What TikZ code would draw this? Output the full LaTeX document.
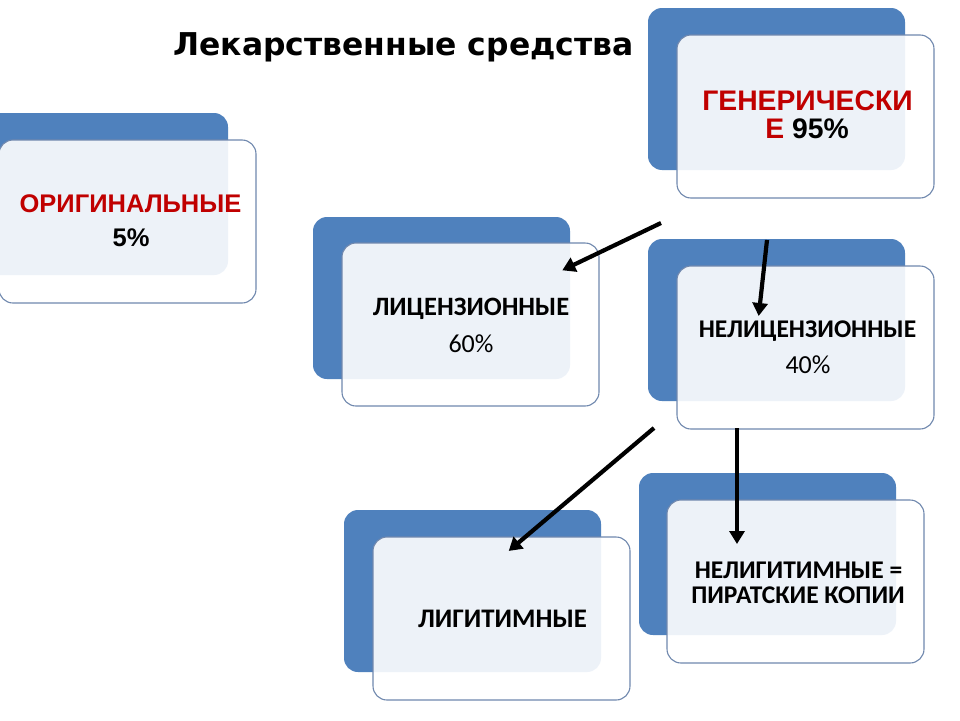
\documentclass[tikz,border=0pt]{standalone}
\usepackage{fontspec}
\setmainfont{Liberation Sans}
\newfontfamily\calibri{Carlito}
\newfontfamily\heavy{DejaVu Sans}
\usetikzlibrary{arrows.meta}
\definecolor{boxblue}{RGB}{79,129,189}
\definecolor{boxedge}{RGB}{112,136,174}
\definecolor{darkred}{RGB}{192,0,0}
\begin{document}
\begin{tikzpicture}[x=1pt,y=-1pt,
  backbox/.style={rectangle,rounded corners=14pt,fill=boxblue,anchor=north west,inner sep=0pt,outer sep=0pt,minimum width=257pt,minimum height=162pt},
  frontbox/.style={rectangle,rounded corners=14pt,fill=white,fill opacity=0.9,draw=boxedge,draw opacity=1,line width=1.1pt,anchor=north west,inner sep=0pt,outer sep=0pt,minimum width=257pt,minimum height=163pt},
  arialtxt/.style={font=\fontsize{25.5}{30}\selectfont\bfseries,anchor=base,inner sep=0pt},
  gentxt/.style={font=\fontsize{28.3}{32}\selectfont\bfseries,anchor=base,inner sep=0pt},
  calitxt/.style={font=\calibri\fontsize{26}{30}\selectfont,anchor=base,inner sep=0pt},
  arr/.style={line width=4.2pt,-{Triangle[length=13pt,width=15pt]},shorten >=-3pt}
]
\useasboundingbox (0,0) rectangle (960,720);
\clip (0,0) rectangle (960,720);
\fill[white] (0,0) rectangle (960,720);
% title
\node[font=\heavy\fontsize{31.4}{34}\selectfont\bfseries,anchor=base,inner sep=0pt] (title) at (403.5,55) {Лекарственные средства};
% box 1
\node[backbox] (b1) at (-29,113) {};
\node[frontbox] (f1) at (-1,140) {};
\node[arialtxt,text=darkred] (t1a) at (130.5,212) {ОРИГИНАЛЬНЫЕ};
\node[arialtxt] (t1b) at (131,246) {5\%};
% box 2
\node[backbox] (b2) at (648,8) {};
\node[frontbox] (f2) at (677,35) {};
\node[gentxt,text=darkred] (t2a) at (807.5,110) {ГЕНЕРИЧЕСКИ};
\node[gentxt] (t2b) at (807,138) {\textcolor{darkred}{Е} 95\%};
% box 3
\node[backbox] (b3) at (313,217) {};
\node[frontbox] (f3) at (342,243) {};
\node[calitxt,font=\calibri\fontsize{26.5}{30}\selectfont\bfseries] (t3a) at (471,315) {ЛИЦЕНЗИОННЫЕ};
\node[calitxt] (t3b) at (471,352) {60\%};
% box 4
\node[backbox] (b4) at (648,239) {};
\node[frontbox] (f4) at (677,266) {};
\node[calitxt,font=\calibri\fontsize{25.5}{30}\selectfont\bfseries] (t4a) at (807.5,337) {НЕЛИЦЕНЗИОННЫЕ};
\node[calitxt] (t4b) at (808,373) {40\%};
% box 5
\node[backbox] (b5) at (344,510) {};
\node[frontbox] (f5) at (373,537) {};
\node[calitxt,font=\calibri\fontsize{26.8}{30}\selectfont\bfseries] (t5) at (502.5,627) {ЛИГИТИМНЫЕ};
% box 6
\node[backbox] (b6) at (639,473) {};
\node[frontbox] (f6) at (667,500) {};
\node[calitxt,font=\calibri\fontsize{25.5}{30}\selectfont\bfseries] (t6a) at (798.5,578) {НЕЛИГИТИМНЫЕ =};
\node[calitxt,font=\calibri\fontsize{25.5}{30}\selectfont\bfseries] (t6b) at (798,603) {ПИРАТСКИЕ КОПИИ};
% arrow endpoints
\coordinate (a1s) at (661,223);
\coordinate (a1e) at (565,269);
\coordinate (a2s) at (767,240);
\coordinate (a2e) at (759,313);
\coordinate (a3s) at (654,428);
\coordinate (a3e) at (511,549);
\coordinate (a4s) at (737,428);
\coordinate (a4e) at (737,541);
\draw[arr] (a1s) -- (a1e);
\draw[arr] (a2s) -- (a2e);
\draw[arr] (a3s) -- (a3e);
\draw[arr] (a4s) -- (a4e);
\end{tikzpicture}
\end{document}
